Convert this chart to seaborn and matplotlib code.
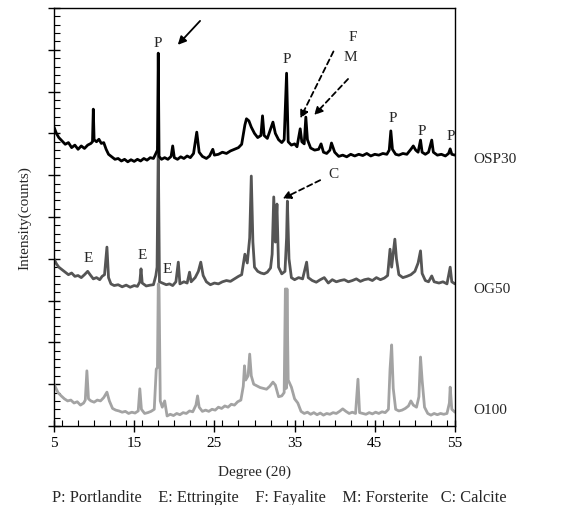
import matplotlib
matplotlib.use("Agg")
import matplotlib.pyplot as plt
import seaborn as sns
import pandas as pd
from matplotlib.ticker import MultipleLocator

# ---- data (2θ in degrees, intensity in arbitrary stacked units) ----
osp30_x = [5.0, 5.3, 5.6, 6.0, 6.4, 6.8, 7.2, 7.6, 8.0, 8.4, 8.8, 9.2, 9.6, 9.8, 9.9, 10.0, 10.3, 10.6, 10.9, 11.2,
           11.5, 11.8, 12.2, 12.6, 13.0, 13.4, 13.8, 14.2, 14.6, 15.0, 15.4, 15.8, 16.2, 16.6, 17.0, 17.4, 17.7, 17.9,
           18.0, 18.1, 18.4, 18.8, 19.2, 19.6, 19.8, 20.0, 20.4, 20.8, 21.2, 21.6, 22.0, 22.4, 22.8, 23.1, 23.5, 24.0,
           24.4, 24.8, 25.0, 25.5, 26.0, 26.5, 27.0, 27.5, 28.0, 28.4, 28.8, 29.0, 29.3, 29.6, 30.0, 30.4, 30.8, 31.0,
           31.2, 31.6, 32.0, 32.3, 32.6, 33.0, 33.4, 33.7, 34.0, 34.2, 34.6, 35.0, 35.3, 35.7, 35.9, 36.2, 36.4, 36.6,
           37.0, 37.5, 38.0, 38.3, 38.6, 39.0, 39.4, 39.6, 40.0, 40.5, 41.0, 41.5, 42.0, 42.5, 43.0, 43.5, 44.0, 44.5,
           45.0, 45.5, 46.0, 46.5, 46.8, 47.0, 47.2, 47.6, 48.0, 48.5, 49.0, 49.5, 49.8, 50.1, 50.4, 50.7, 50.9, 51.3,
           51.7, 52.1, 52.3, 52.8, 53.3, 53.8, 54.2, 54.4, 54.6, 55.0]
osp30_y = [7.15, 7.00, 6.90, 6.82, 6.74, 6.78, 6.66, 6.72, 6.62, 6.70, 6.64, 6.72, 6.76, 6.80, 7.58, 6.85, 6.80, 6.86, 6.76, 6.78,
           6.62, 6.50, 6.44, 6.38, 6.40, 6.34, 6.38, 6.32, 6.37, 6.33, 6.38, 6.34, 6.40, 6.36, 6.42, 6.40, 6.52, 6.60,
           8.92, 6.45, 6.38, 6.42, 6.38, 6.45, 6.70, 6.42, 6.38, 6.44, 6.40, 6.46, 6.42, 6.52, 7.03, 6.55, 6.45, 6.40,
           6.46, 6.62, 6.48, 6.50, 6.55, 6.52, 6.58, 6.62, 6.66, 6.74, 7.20, 7.35, 7.30, 7.15, 7.00, 6.90, 6.95, 7.42,
           6.95, 6.88, 7.10, 7.27, 7.00, 6.85, 6.78, 6.85, 8.44, 6.80, 6.72, 6.75, 6.68, 7.11, 6.80, 6.75, 7.39, 6.85,
           6.65, 6.60, 6.62, 6.75, 6.55, 6.52, 6.60, 6.77, 6.55, 6.45, 6.48, 6.44, 6.50, 6.46, 6.50, 6.47, 6.52, 6.46,
           6.50, 6.48, 6.52, 6.50, 6.60, 7.06, 6.62, 6.50, 6.48, 6.52, 6.50, 6.62, 6.70, 6.60, 6.55, 6.84, 6.55, 6.50,
           6.55, 6.84, 6.55, 6.48, 6.50, 6.46, 6.52, 6.63, 6.50, 6.48]

og50_x = [5.0, 5.3, 5.6, 6.0, 6.4, 6.8, 7.2, 7.6, 8.0, 8.4, 8.8, 9.2, 9.5, 9.9, 10.3, 10.7, 11.0, 11.3, 11.6, 11.8,
          12.1, 12.5, 13.0, 13.5, 14.0, 14.5, 15.0, 15.4, 15.7, 15.85, 16.0, 16.5, 17.0, 17.4, 17.7, 17.85, 18.0,
          18.15, 18.5, 19.0, 19.4, 19.8, 20.2, 20.5, 20.7, 21.2, 21.6, 21.9, 22.1, 22.6, 23.0, 23.3, 23.6, 24.0, 24.5,
          25.0, 25.5, 26.0, 26.5, 27.0, 27.5, 28.0, 28.4, 28.8, 29.1, 29.4, 29.6, 29.8, 30.0, 30.4, 30.8, 31.2, 31.6,
          32.0, 32.2, 32.4, 32.6, 32.8, 33.0, 33.4, 33.8, 34.0, 34.1, 34.3, 34.6, 35.0, 35.5, 36.0, 36.5, 36.7, 37.2,
          37.7, 38.2, 38.7, 39.2, 39.7, 40.2, 40.7, 41.2, 41.7, 42.2, 42.7, 43.2, 43.7, 44.2, 44.7, 45.2, 45.7, 46.2,
          46.6, 46.9, 47.1, 47.5, 47.7, 48.0, 48.5, 49.0, 49.5, 50.0, 50.4, 50.7, 50.9, 51.3, 51.7, 52.1, 52.4, 53.0,
          53.5, 54.0, 54.4, 54.6, 55.0]
og50_y = [4.00, 3.88, 3.80, 3.74, 3.68, 3.62, 3.66, 3.58, 3.60, 3.55, 3.62, 3.70, 3.62, 3.52, 3.55, 3.50, 3.58, 3.62, 4.28, 3.55,
          3.40, 3.36, 3.38, 3.33, 3.37, 3.32, 3.36, 3.34, 3.45, 3.76, 3.42, 3.35, 3.37, 3.38, 3.60, 3.80, 6.70,
          3.45, 3.42, 3.38, 3.40, 3.36, 3.45, 3.92, 3.40, 3.45, 3.42, 3.68, 3.45, 3.55, 3.70, 3.92, 3.60, 3.45, 3.38,
          3.42, 3.40, 3.45, 3.48, 3.46, 3.52, 3.58, 3.62, 4.11, 3.90, 4.50, 5.98, 4.40, 3.80, 3.70, 3.66, 3.64, 3.68,
          3.78, 4.11, 5.48, 4.40, 5.31, 3.80, 3.64, 3.70, 4.50, 5.38, 4.00, 3.55, 3.50, 3.55, 3.52, 3.92, 3.55, 3.48,
          3.44, 3.50, 3.55, 3.42, 3.50, 3.45, 3.48, 3.50, 3.45, 3.48, 3.52, 3.46, 3.50, 3.52, 3.48, 3.55, 3.50, 3.54,
          3.60, 4.23, 3.80, 4.47, 4.00, 3.62, 3.55, 3.58, 3.62, 3.70, 3.90, 4.19, 3.65, 3.48, 3.45, 3.59, 3.45, 3.42,
          3.45, 3.40, 3.80, 3.45, 3.40]

o100_x = [5.0, 5.2, 5.5, 5.9, 6.3, 6.7, 7.1, 7.5, 7.9, 8.3, 8.7, 8.9, 9.1, 9.3, 9.6, 10.0, 10.4, 10.8, 11.2, 11.6,
          11.9, 12.3, 12.7, 13.1, 13.5, 13.9, 14.3, 14.7, 15.1, 15.5, 15.7, 15.9, 16.3, 16.7, 17.1, 17.5, 17.75, 17.9,
          18.0, 18.1, 18.25, 18.5, 18.8, 19.1, 19.5, 19.9, 20.3, 20.7, 21.1, 21.5, 21.9, 22.3, 22.7, 22.9, 23.1, 23.5,
          23.9, 24.3, 24.7, 25.1, 25.5, 25.9, 26.3, 26.7, 27.1, 27.5, 27.9, 28.3, 28.6, 28.75, 28.9, 29.2, 29.4, 29.6,
          29.9, 30.3, 30.7, 31.1, 31.5, 31.9, 32.3, 32.6, 33.0, 33.4, 33.7, 33.85, 33.95, 34.05, 34.2, 34.6, 35.0,
          35.4, 35.8, 36.2, 36.6, 37.0, 37.4, 37.8, 38.2, 38.6, 39.0, 39.4, 39.8, 40.2, 40.6, 41.0, 41.4, 41.8, 42.2,
          42.6, 42.9, 43.1, 43.5, 43.9, 44.3, 44.7, 45.1, 45.5, 45.9, 46.3, 46.7, 46.9, 47.1, 47.3, 47.6, 48.0, 48.4,
          48.8, 49.2, 49.5, 49.8, 50.2, 50.5, 50.7, 50.9, 51.2, 51.6, 52.0, 52.4, 52.8, 53.2, 53.6, 54.0, 54.3, 54.4,
          54.6, 55.0]
o100_y = [1.00, 0.92, 0.80, 0.72, 0.65, 0.60, 0.62, 0.55, 0.58, 0.50, 0.55, 0.62, 1.32, 0.65, 0.60, 0.57, 0.62, 0.60, 0.68, 0.81,
          0.60, 0.42, 0.38, 0.36, 0.33, 0.35, 0.30, 0.33, 0.31, 0.36, 0.89, 0.40, 0.30, 0.32, 0.35, 0.40, 1.36, 1.40,
          3.40, 3.30, 0.60, 0.45, 0.60, 0.24, 0.28, 0.25, 0.30, 0.27, 0.32, 0.30, 0.36, 0.34, 0.50, 0.72, 0.45, 0.35,
          0.38, 0.35, 0.40, 0.38, 0.45, 0.42, 0.48, 0.45, 0.52, 0.50, 0.58, 0.62, 0.95, 1.44, 1.10, 1.20, 1.72, 1.20,
          1.00, 0.96, 0.92, 0.90, 0.88, 0.95, 1.05, 0.98, 0.70, 0.72, 0.80, 3.28, 0.90, 3.28, 1.10, 0.93, 0.65,
          0.55, 0.35, 0.30, 0.33, 0.28, 0.32, 0.27, 0.31, 0.26, 0.30, 0.28, 0.32, 0.30, 0.35, 0.41, 0.35, 0.30, 0.33,
          0.30, 1.12, 0.32, 0.30, 0.28, 0.32, 0.29, 0.33, 0.30, 0.34, 0.32, 0.40, 1.36, 1.94, 0.90, 0.40, 0.36, 0.38,
          0.42, 0.48, 0.60, 0.50, 0.45, 0.70, 1.65, 1.10, 0.45, 0.30, 0.26, 0.30, 0.27, 0.30, 0.28, 0.30, 0.55, 0.93,
          0.40, 0.33]

series_names = ["O100", "OG50", "OSP30"]
series_colors = ["#a3a3a3", "#555555", "#000000"]
x_ticks = [5, 15, 25, 35, 45, 55]

df = pd.concat([
    pd.DataFrame({"deg": o100_x, "I": o100_y, "s": "O100"}),
    pd.DataFrame({"deg": og50_x, "I": og50_y, "s": "OG50"}),
    pd.DataFrame({"deg": osp30_x, "I": osp30_y, "s": "OSP30"}),
])

sns.set_style("ticks")
plt.rcParams["font.family"] = ["Liberation Serif", "DejaVu Serif"]

fig = plt.figure(figsize=(5.66, 5.06), dpi=100)
ax = fig.add_axes([54 / 566, 1 - 427 / 506, (455 - 54) / 566, (427 - 9) / 506])

sns.lineplot(data=df, x="deg", y="I", hue="s", hue_order=series_names,
             palette=dict(zip(series_names, series_colors)), sort=False,
             estimator=None, linewidth=2.0, legend=False, ax=ax)

ax.set_xlim(5, 55)
ax.set_ylim(0, 10)
ax.set_xticks(x_ticks)
ax.xaxis.set_minor_locator(MultipleLocator(2))
ax.yaxis.set_major_locator(MultipleLocator(1))
ax.yaxis.set_minor_locator(MultipleLocator(0.2))
ax.set_yticklabels([])
ax.tick_params(which="major", direction="inout", length=8, width=1.0, color="black",
               labelsize=11, labelcolor="black")
ax.tick_params(which="minor", direction="in", length=4, width=0.8, color="black")
for sp in ax.spines.values():
    sp.set_color("black")
    sp.set_linewidth(1.0)

ax.set_xlabel("Degree (2θ)", fontsize=11, labelpad=11)
ax.set_ylabel("Intensity(counts)", fontsize=11, labelpad=9)

# series names at the right
for name, yv in zip(series_names, [0.4, 3.3, 6.4]):
    ax.text(1.045, yv / 10, name, transform=ax.transAxes, fontsize=11, va="center", ha="left")

# peak labels
lab_kw = dict(fontsize=11, ha="center", va="center")
for (xx, yy, t) in [(18.0, 9.17, "P"), (34.05, 8.78, "P"), (42.2, 9.33, "F"), (41.9, 8.85, "M"),
                    (47.3, 7.39, "P"), (50.8, 7.06, "P"), (54.5, 6.94, "P"),
                    (39.8, 6.03, "C"), (9.25, 4.04, "E"), (16.0, 4.11, "E"), (19.1, 3.76, "E")]:
    ax.text(xx, yy, t, **lab_kw)

# arrows
ax.annotate("", xy=(20.2, 9.07), xytext=(23.45, 9.74),
            arrowprops=dict(arrowstyle="-|>", color="black", lw=1.3, mutation_scale=12))
dash = dict(arrowstyle="-|>", color="black", lw=1.3, linestyle=(0, (3, 2)), mutation_scale=12)
ax.annotate("", xy=(35.55, 7.30), xytext=(40.0, 9.02), arrowprops=dash)
ax.annotate("", xy=(37.2, 7.39), xytext=(41.9, 8.35), arrowprops=dash)
ax.annotate("", xy=(33.2, 5.41), xytext=(38.5, 5.91), arrowprops=dash)

fig.text(0.5 * (45 + 513) / 566, 1 - 498 / 506,
         "P: Portlandite    E: Ettringite    F: Fayalite    M: Forsterite   C: Calcite",
         fontsize=11.8, ha="center", va="center")

fig.savefig("out.png", dpi=100)
